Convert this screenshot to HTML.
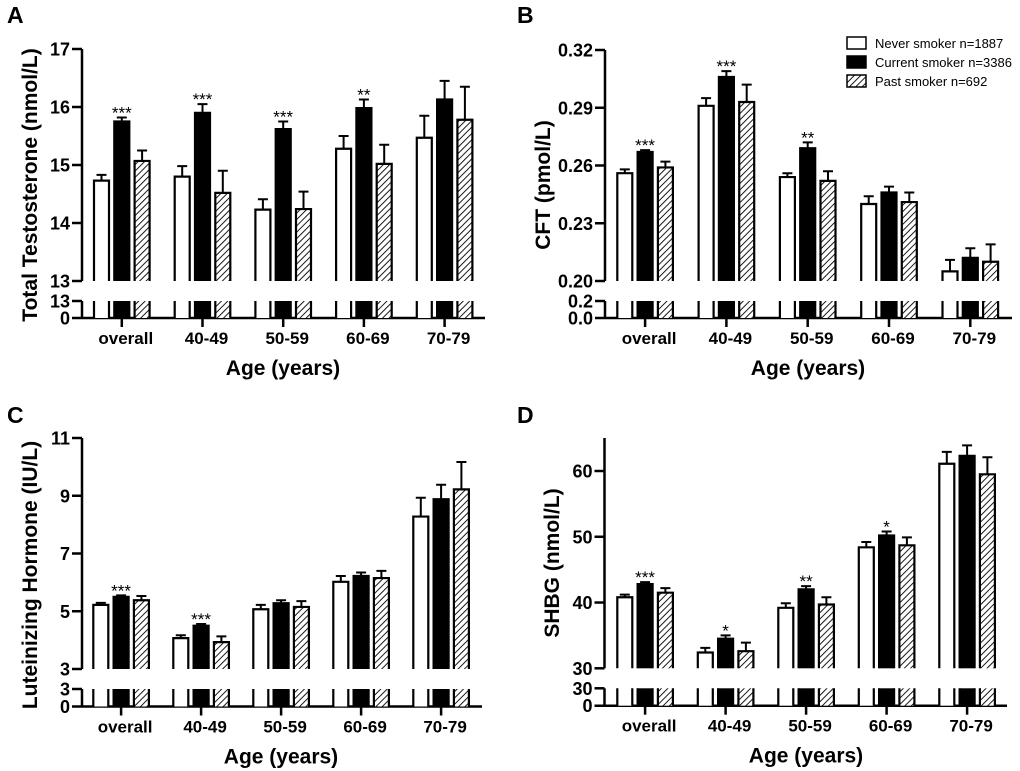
<!DOCTYPE html>
<html><head><meta charset="utf-8">
<style>
html,body{margin:0;padding:0;background:#fff;}
svg{display:block;font-family:"Liberation Sans",Arial,sans-serif;}
</style></head>
<body>
<svg id="fig" width="1020" height="771" viewBox="0 0 1020 771" xmlns="http://www.w3.org/2000/svg">
<defs>
<pattern id="hatch" patternUnits="userSpaceOnUse" width="4.5" height="4.5" patternTransform="rotate(45)">
<rect width="4.5" height="4.5" fill="#fff"/>
<line x1="0" y1="0" x2="0" y2="4.5" stroke="#000" stroke-width="1.8"/>
</pattern>
</defs>
<g id="legend">
<rect x="847" y="37" width="19" height="12" fill="#fff" stroke="#000" stroke-width="1.5"/>
<text x="875" y="48" font-size="13">Never smoker n=1887</text>
<rect x="847" y="56" width="19" height="12" fill="#000" stroke="#000" stroke-width="1.5"/>
<text x="875" y="67" font-size="13">Current smoker n=3386</text>
<rect x="847" y="75" width="19" height="12" fill="url(#hatch)" stroke="#000" stroke-width="1.5"/>
<text x="875" y="86" font-size="13">Past smoker n=692</text>
</g>
</svg>
<script>
const categories = ["overall","40-49","50-59","60-69","70-79"];
const seriesNames = ["never","current","past"];
// Panel A: Total testosterone
const ttNever = [14.73,14.80,14.23,15.28,15.47];
const ttCurrent = [15.75,15.90,15.62,15.98,16.13];
const ttPast = [15.07,14.52,14.24,15.02,15.78];
const ttNeverErr = [0.10,0.18,0.18,0.22,0.38];
const ttCurrentErr = [0.07,0.15,0.13,0.15,0.32];
const ttPastErr = [0.18,0.38,0.30,0.33,0.57];
const ttStars = ["***","***","***","**",""];
const ttTicks = [13,14,15,16,17];
// Panel B: CFT
const cftNever = [0.256,0.291,0.254,0.240,0.205];
const cftCurrent = [0.267,0.306,0.269,0.246,0.212];
const cftPast = [0.259,0.293,0.252,0.241,0.210];
const cftNeverErr = [0.002,0.004,0.002,0.004,0.006];
const cftCurrentErr = [0.001,0.003,0.003,0.003,0.005];
const cftPastErr = [0.003,0.009,0.005,0.005,0.009];
const cftStars = ["***","***","**","",""];
const cftTicks = [0.20,0.23,0.26,0.29,0.32];
// Panel C: LH
const lhNever = [5.22,4.07,5.07,6.02,8.28];
const lhCurrent = [5.50,4.50,5.28,6.22,8.88];
const lhPast = [5.38,3.93,5.15,6.15,9.22];
const lhNeverErr = [0.07,0.10,0.15,0.20,0.65];
const lhCurrentErr = [0.05,0.06,0.10,0.12,0.50];
const lhPastErr = [0.15,0.20,0.20,0.25,0.95];
const lhStars = ["***","***","","",""];
const lhTicks = [3,5,7,9,11];
// Panel D: SHBG
const shNever = [40.8,32.4,39.2,48.4,61.1];
const shCurrent = [42.8,34.5,42.0,50.2,62.3];
const shPast = [41.5,32.6,39.7,48.7,59.5];
const shNeverErr = [0.4,0.7,0.7,0.8,1.8];
const shCurrentErr = [0.3,0.5,0.5,0.6,1.6];
const shPastErr = [0.7,1.3,1.1,1.2,2.6];
const shStars = ["***","*","**","*",""];
const shTicks = [30,40,50,60];

const NS="http://www.w3.org/2000/svg";
const svg=document.getElementById('fig');
function mk(tag,attrs,parent){const e=document.createElementNS(NS,tag);for(const k in attrs)e.setAttribute(k,attrs[k]);(parent||svg).appendChild(e);return e;}

function panel(p){
  const g=mk('g',{});
  
  
  const yScale=v=>p.base-(v-p.vmin)/(p.vmax-p.vmin)*(p.base-p.topPx);
  const fmt=p.fmt;
  const L=mk('text',{x:p.letterX,y:p.letterY,'font-size':23,'font-weight':'bold'},g);L.textContent=p.id.toUpperCase();
  
  
  const ya=mk('line',{x1:p.ax,y1:p.axTop,x2:p.ax,y2:p.base,stroke:'#000','stroke-width':2.5},g);
  
  
  p.ticks.forEach(t=>{
    const y=yScale(t);
    mk('line',{x1:p.ax-10,y1:y,x2:p.ax,y2:y,stroke:'#000','stroke-width':2.5},g);
    const tx=mk('text',{x:p.ax-12,y:y+6.5,'font-size':18,'font-weight':'bold','text-anchor':'end'},g);tx.textContent=fmt(t);
    
    
  });
  mk('line',{x1:p.ax,y1:p.lowY,x2:p.ax,y2:p.zeroY,stroke:'#000','stroke-width':2.5},g);
  mk('line',{x1:p.ax-10,y1:p.lowY,x2:p.ax,y2:p.lowY,stroke:'#000','stroke-width':2.5},g);
  const lt=mk('text',{x:p.ax-12,y:p.lowY+6.5,'font-size':18,'font-weight':'bold','text-anchor':'end'},g);lt.textContent=p.lowLabel;
  
  
  const zt=mk('text',{x:p.ax-12,y:p.zeroY+6.5,'font-size':18,'font-weight':'bold','text-anchor':'end'},g);zt.textContent=p.zeroLabel;
  
  
  const xa=mk('line',{x1:p.ax-10,y1:p.zeroY,x2:p.xEnd,y2:p.zeroY,stroke:'#000','stroke-width':2.5},g);
  
  
  const fills=['#fff','#000','url(#hatch)'];
  categories.forEach((c,i)=>{
    const gx=p.x0+i*p.sp;
    for(let s=0;s<3;s++){
      const v=p.vals[s][i],e=p.errs[s][i];
      const x=gx+s*20.3,w=15;
      const y=yScale(v);
      const eb=mk('path',{d:`M${x+w/2} ${y} V${yScale(v+e)} M${x+w/2-5} ${yScale(v+e)} H${x+w/2+5}`,stroke:'#000','stroke-width':2,fill:'none'},g);
      
      
      const b=mk('rect',{x:x,y:y,width:w,height:p.base-y,fill:fills[s],stroke:'none'},g);
      
      
      mk('path',{d:`M${x} ${p.base} V${y} H${x+w} V${p.base}`,stroke:'#000','stroke-width':2.2,fill:'none'},g);
      mk('rect',{x:x,y:p.lowY,width:w,height:p.zeroY-p.lowY,fill:fills[s]},g);
      mk('path',{d:`M${x} ${p.lowY} V${p.zeroY} M${x+w} ${p.lowY} V${p.zeroY}`,stroke:'#000','stroke-width':2.2},g);
    }
    const cx=gx+20.3+7.5;
    mk('line',{x1:cx,y1:p.zeroY,x2:cx,y2:p.zeroY+9,stroke:'#000','stroke-width':2.5},g);
    const cl=mk('text',{x:cx+4,y:p.zeroY+26,'font-size':17,'font-weight':'bold','text-anchor':'middle'},g);cl.textContent=c;
    
    
    if(p.stars[i]){
      const st=mk('text',{x:cx,y:yScale(p.vals[1][i]+p.errs[1][i])+1,'font-size':17,'text-anchor':'middle'},g);st.textContent=p.stars[i];
      
      
    }
  });
  const xt=mk('text',{x:p.xTitleX,y:p.zeroY+57,'font-size':21,'font-weight':'bold','text-anchor':'middle'},g);xt.textContent='Age (years)';
  
  
  const yt=mk('text',{x:0,y:0,'font-size':21,'font-weight':'bold','text-anchor':'middle',transform:`translate(${p.yTitleX},${p.yTitleY}) rotate(-90)`},g);yt.textContent=p.ytitle;
  
  
}

panel({id:'a',letterX:7,letterY:23,ax:82,axTop:49,base:281,topPx:49,vmin:13,vmax:17,ticks:ttTicks,fmt:v=>String(v),lowY:301,zeroY:318,lowLabel:'13',zeroLabel:'0',xEnd:485,x0:94,sp:80.7,
  vals:[ttNever,ttCurrent,ttPast],errs:[ttNeverErr,ttCurrentErr,ttPastErr],stars:ttStars,xTitleX:283,yTitleX:37,yTitleY:185,ytitle:'Total Testosterone (nmol/L)'});
panel({id:'b',letterX:517,letterY:23,ax:605,axTop:50,base:281,topPx:50,vmin:0.20,vmax:0.32,ticks:cftTicks,fmt:v=>v.toFixed(2),lowY:301,zeroY:318,lowLabel:'0.2',zeroLabel:'0.0',xEnd:1012,x0:617.3,sp:81.3,
  vals:[cftNever,cftCurrent,cftPast],errs:[cftNeverErr,cftCurrentErr,cftPastErr],stars:cftStars,xTitleX:808,yTitleX:550,yTitleY:185,ytitle:'CFT (pmol/L)'});
panel({id:'c',letterX:7,letterY:423,ax:82,axTop:438,base:669,topPx:438,vmin:3,vmax:11,ticks:lhTicks,fmt:v=>String(v),lowY:689,zeroY:706.5,lowLabel:'3',zeroLabel:'0',xEnd:482,x0:93.3,sp:80,
  vals:[lhNever,lhCurrent,lhPast],errs:[lhNeverErr,lhCurrentErr,lhPastErr],stars:lhStars,xTitleX:281,yTitleX:37,yTitleY:575,ytitle:'Luteinizing Hormone (IU/L)'});
panel({id:'d',letterX:517,letterY:423,ax:604.5,axTop:438,base:668.3,topPx:471,vmin:30,vmax:60,ticks:shTicks,fmt:v=>String(v),lowY:688.3,zeroY:705.7,lowLabel:'30',zeroLabel:'0',xEnd:1007,x0:617.3,sp:80.5,
  vals:[shNever,shCurrent,shPast],errs:[shNeverErr,shCurrentErr,shPastErr],stars:shStars,xTitleX:806,yTitleX:559,yTitleY:563,ytitle:'SHBG (nmol/L)'});
</script>
</body></html>
